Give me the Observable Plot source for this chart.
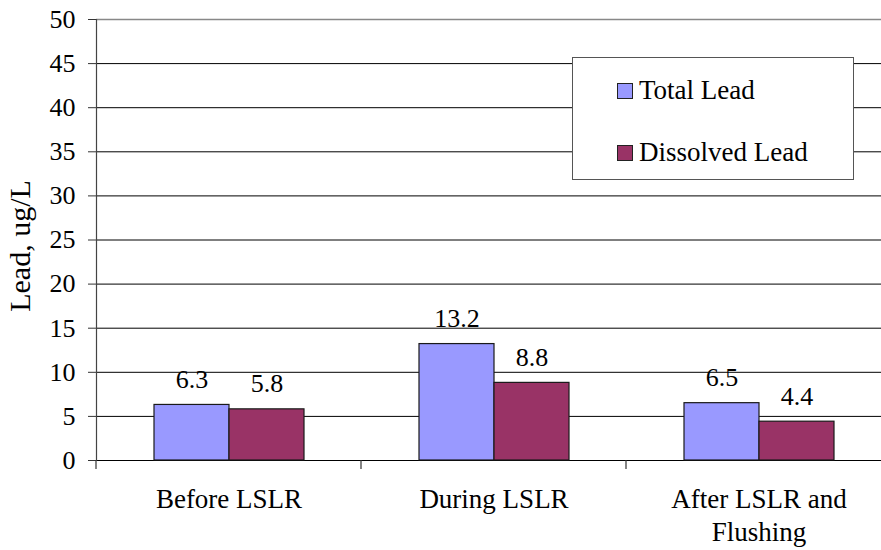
<!DOCTYPE html>
<html><head><meta charset="utf-8">
<script src="https://cdn.jsdelivr.net/npm/d3@7"></script>
<script src="https://cdn.jsdelivr.net/npm/@observablehq/plot@0.6"></script>
<style>
body{margin:0;background:#fff;}
#wrap{position:relative;width:881px;height:550px;overflow:hidden;font-family:"Liberation Serif","Times New Roman",serif;}
#legend{position:absolute;left:572px;top:57px;width:280px;height:121px;border:1.5px solid #555;background:#fff;}
.item{position:absolute;left:44px;height:31px;line-height:31px;display:flex;align-items:center;font-size:27px;color:#000;white-space:nowrap;}
.sw{width:16px;height:16px;border:1px solid #222;margin-right:6px;box-sizing:border-box;}
</style></head><body><div id="wrap"></div>
<script>
const categories = ["Before LSLR", "During LSLR", "After LSLR and\nFlushing"];
const seriesNames = ["Total Lead", "Dissolved Lead"];
const totalLead = [6.3, 13.2, 6.5];
const dissolvedLead = [5.8, 8.8, 4.4];
const seriesColors = ["#9999FF", "#993366"];
const yTicks = [0, 5, 10, 15, 20, 25, 30, 35, 40, 45, 50];
const yLabel = "Lead, ug/L";

const data = categories.flatMap((c, i) => [
  {category: c, series: seriesNames[0], value: totalLead[i]},
  {category: c, series: seriesNames[1], value: dissolvedLead[i]}
]);

const plot = Plot.plot({
  width: 881, height: 550,
  marginTop: 19, marginBottom: 90, marginLeft: 95, marginRight: 0,
  style: {fontFamily: "Liberation Serif, 'Times New Roman', serif", color: "black", background: "white"},
  fx: {domain: categories, range: [95, 892], padding: 0, label: null},
  x: {domain: seriesNames, paddingInner: 0, paddingOuter: 0.75, axis: null},
  y: {domain: [0, 50], label: null},
  color: {domain: seriesNames, range: seriesColors},
  marks: [
    Plot.gridY(yTicks.filter(d => d < 50), {stroke: "#000", strokeOpacity: 1, strokeWidth: 1}),
    Plot.ruleY([50], {stroke: "#888", strokeWidth: 1.5}),
    Plot.barY(data, {fx: "category", x: "series", y: "value", fill: "series", stroke: "#1a1a1a", strokeWidth: 1.2}),
    Plot.text(data, {fx: "category", x: "series", y: "value", text: d => d.value.toFixed(1), lineAnchor: "bottom", dy: -17, fontSize: 26, fill: "#000"}),
    Plot.axisY(yTicks, {tickSize: 8, tickPadding: 13, fontSize: 26, label: null, stroke: "#333"}),
    Plot.frame({anchor: "left", stroke: "#444", strokeWidth: 1.2, facetAnchor: "left"}),
    Plot.axisFx({anchor: "bottom", tickSize: 0, tickPadding: 24, fontSize: 27, lineHeight: 1.22, label: null}),
    Plot.text([yLabel], {frameAnchor: "left", rotate: -90, dx: -76, dy: 6, textAnchor: "middle", lineAnchor: "middle", fontSize: 30, fill: "#000", facetAnchor: "left"})
  ]
});

// category divider ticks below the baseline, positioned by the fx and y scales
const fx = plot.scale("fx"), ys = plot.scale("y");
const y0 = ys.apply(0);
const svg = d3.select(plot);
categories.forEach(c => {
  const xv = fx.apply(c);
  svg.append("line").attr("x1", xv).attr("x2", xv).attr("y1", y0).attr("y2", y0 + 9)
    .attr("stroke", "#333").attr("stroke-width", 1.2);
});

const wrap = document.getElementById("wrap");
wrap.appendChild(plot);

const legend = document.createElement("div");
legend.id = "legend";
const tops = [17, 79];
seriesNames.forEach((s, i) => {
  const it = document.createElement("div");
  it.className = "item";
  it.style.top = tops[i] + "px";
  const sw = document.createElement("span");
  sw.className = "sw";
  sw.style.background = seriesColors[i];
  const t = document.createElement("span");
  t.textContent = s;
  it.appendChild(sw); it.appendChild(t);
  legend.appendChild(it);
});
wrap.appendChild(legend);
</script></body></html>
